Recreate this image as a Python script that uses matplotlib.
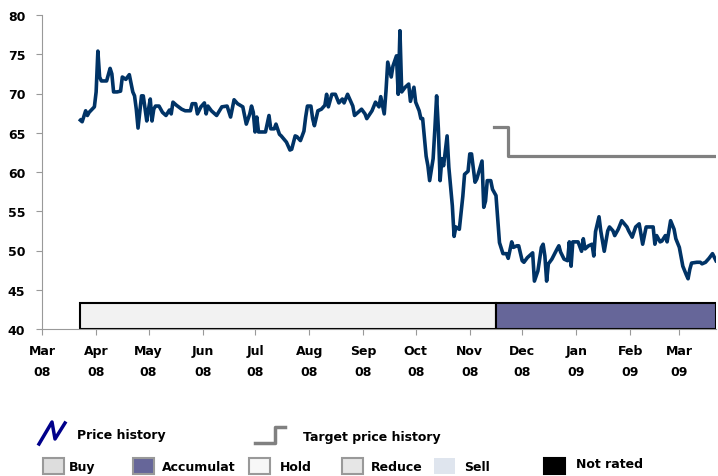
import numpy as np
import matplotlib
matplotlib.use('Agg')
import matplotlib.pyplot as plt
import matplotlib.dates as mdates
from matplotlib.patches import Rectangle
from matplotlib.lines import Line2D

# price history: days counted from 1 Mar 2008
start = np.datetime64('2008-03-01')
price_days = [
    22, 23, 25, 26, 27, 30, 31, 32, 33, 34, 37, 39, 40, 41, 43, 45, 46, 48, 49, 50,
    52, 53, 54, 55, 56, 57, 58, 60, 61, 62, 63, 64, 65, 67, 69, 71, 73, 74, 75, 77,
    80, 82, 85, 86, 88, 89, 91, 93, 94, 95, 97, 100, 103, 106, 108, 110, 112, 115, 116, 117,
    119, 120, 121, 122, 123, 124, 126, 128, 130, 131, 133, 134, 136, 137, 140, 142, 143, 145, 146, 148,
    150, 151, 152, 154, 155, 156, 158, 160, 162, 163, 164, 166, 168, 170, 172, 173, 175, 178, 179, 181,
    183, 185, 186, 189, 191, 193, 194, 196, 197, 198, 200, 201, 203, 204, 205, 206, 208, 210, 211, 213,
    214, 216, 217, 218, 220, 221, 222, 224, 225, 226, 227, 228, 229, 230, 232, 233, 235, 236, 237, 239,
    241, 242, 244, 245, 246, 248, 249, 252, 253, 254, 255, 257, 258, 260, 261, 262, 264, 266, 267, 269,
    270, 272, 273, 275, 276, 278, 281, 282, 284, 286, 287, 288, 289, 290, 292, 295, 296, 297, 299, 301,
    302, 303, 304, 307, 309, 310, 311, 313, 315, 316, 317, 319, 320, 322, 324, 325, 327, 328, 330, 332,
    335, 336, 338, 340, 342, 344, 346, 350, 351, 352, 354, 355, 357, 358, 360, 362, 363, 365, 367, 369,
    370, 371, 372, 375, 377, 378, 380, 382, 384, 386]
price_values = [
    66.6, 66.4, 67.8, 67.2, 67.6, 68.3, 70.2, 75.4, 72.1, 71.6, 71.6, 73.2, 72.5, 70.2, 70.2, 70.3, 72.1, 71.8, 72.1, 72.4,
    70.2, 69.7, 68.0, 65.6, 67.6, 69.7, 69.7, 66.5, 68.0, 69.3, 66.5, 68.0, 68.4, 68.4, 67.6, 67.2, 67.9, 67.4, 68.9, 68.5,
    68.0, 67.8, 67.8, 68.7, 68.7, 67.4, 68.3, 68.8, 67.4, 68.4, 67.8, 67.2, 68.3, 68.4, 67.0, 69.2, 68.7, 68.3, 67.2, 66.1,
    67.4, 68.4, 67.6, 65.1, 67.0, 65.1, 65.1, 65.1, 67.2, 65.5, 65.5, 66.1, 64.8, 64.6, 63.8, 62.8, 62.9, 64.6, 64.5, 64.0,
    65.2, 67.0, 68.4, 68.4, 66.8, 65.9, 67.8, 68.0, 68.5, 69.9, 68.3, 69.9, 69.9, 68.8, 69.3, 68.8, 69.9, 68.4, 67.2, 67.6,
    68.0, 67.4, 66.8, 67.8, 68.9, 68.3, 69.6, 67.4, 70.3, 74.0, 72.1, 73.5, 74.8, 69.9, 78.0, 70.2, 70.8, 71.2, 69.0, 70.8,
    68.9, 67.8, 66.8, 66.8, 62.0, 60.8, 58.9, 61.7, 65.5, 69.7, 65.5, 58.9, 61.7, 60.8, 64.6, 60.6, 55.7, 51.8, 53.0, 52.7,
    56.9, 59.7, 60.1, 62.3, 62.3, 58.7, 59.1, 61.4, 55.5, 56.3, 58.9, 58.9, 57.8, 57.0, 54.0, 51.0, 49.6, 49.6, 49.0, 51.1,
    50.4, 50.6, 50.6, 48.7, 48.5, 49.1, 49.7, 46.1, 47.4, 50.4, 50.8, 49.3, 46.1, 48.3, 48.9, 50.2, 50.6, 49.8, 48.9, 48.7,
    51.1, 48.0, 51.1, 51.1, 49.9, 51.5, 50.2, 50.6, 50.8, 49.3, 52.4, 54.3, 52.5, 49.9, 52.5, 53.0, 52.5, 51.9, 52.7, 53.8,
    53.0, 52.5, 51.7, 53.0, 53.4, 50.8, 53.0, 53.0, 50.8, 51.9, 51.1, 51.2, 51.9, 51.1, 53.8, 52.7, 51.5, 50.4, 48.0, 46.9,
    46.4, 47.6, 48.4, 48.5, 48.5, 48.3, 48.5, 49.0, 49.6, 48.7]

target_dates = ['2008-11-15', '2008-11-23', '2009-03-22']
target_values = [65.7, 62.0, 62.0]

rating_names = ['Hold', 'Accumulate']
rating_start = ['2008-03-23', '2008-11-16']
rating_end = ['2008-11-16', '2009-03-22']
rating_colors = {'Hold': '#f2f2f2', 'Accumulate': '#666699'}

W, H = 718, 477
fig = plt.figure(figsize=(W / 100, H / 100), dpi=100)
ax = fig.add_axes([42 / W, 1 - 330 / H, (716 - 42) / W, (330 - 16) / H])

dates = start + np.array(price_days).astype('timedelta64[D]')
ax.plot(dates, price_values, color='#003366', lw=2.6, solid_joinstyle='round', zorder=3)
ax.plot(np.array(target_dates, dtype='datetime64[D]'), target_values, drawstyle='steps-post',
        color='#808080', lw=2.3, zorder=3)

for name, s, e in zip(rating_names, rating_start, rating_end):
    x0 = mdates.date2num(np.datetime64(s))
    x1 = mdates.date2num(np.datetime64(e))
    ax.add_patch(Rectangle((x0, 40), x1 - x0, 3.3, facecolor=rating_colors[name],
                           edgecolor='black', lw=1.5, zorder=2))

ax.set_xlim(np.datetime64('2008-03-01'), np.datetime64('2009-03-22'))
ax.set_ylim(40, 80)
ax.set_yticks(range(40, 81, 5))
ax.xaxis.set_major_locator(mdates.MonthLocator())
ax.xaxis.set_major_formatter(mdates.DateFormatter('%b\n%y'))

for s in ['top', 'right']:
    ax.spines[s].set_visible(False)
for s in ['left', 'bottom']:
    ax.spines[s].set_color('#999999')
ax.tick_params(axis='both', direction='out', length=4, color='#999999', labelsize=9)
ax.tick_params(axis='y', pad=8)
ax.tick_params(axis='x', pad=7)
for lab in ax.get_xticklabels() + ax.get_yticklabels():
    lab.set_fontweight('bold')
for lab in ax.get_xticklabels():
    lab.set_linespacing(1.75)


def fx(x):
    return x / W


def fy(y):
    return 1 - y / H


# legend, drawn by hand below the chart
fig.add_artist(Line2D([fx(39), fx(52), fx(55), fx(65)], [fy(445), fy(423), fy(440), fy(424)],
                      color='#00008b', lw=2.5, transform=fig.transFigure))
fig.text(fx(77), fy(436), 'Price history', fontsize=9, fontweight='bold', va='center')
fig.add_artist(Line2D([fx(255), fx(275), fx(275), fx(285)], [fy(444), fy(444), fy(428), fy(428)],
                      color='#808080', lw=2.5, transform=fig.transFigure))
fig.text(fx(303), fy(438), 'Target price history', fontsize=9, fontweight='bold', va='center')

legend_boxes = [
    (43, 'Buy', 69, '#dddddd', '#999999'),
    (133, 'Accumulat', 162, '#666699', '#999999'),
    (249, 'Hold', 280, '#f7f7f7', '#999999'),
    (342, 'Reduce', 371, '#e6e6e6', '#999999'),
    (434, 'Sell', 464, '#dfe5ee', 'none'),
    (544, 'Not rated', 576, 'black', 'black'),
]
for bx, label, tx, fc, ec in legend_boxes:
    fig.add_artist(Rectangle((fx(bx), fy(475)), 21 / W, 16 / H, facecolor=fc, edgecolor=ec,
                             lw=1.5, transform=fig.transFigure))
    ty = 465 if label == 'Not rated' else 468
    fig.text(fx(tx), fy(ty), label, fontsize=9, fontweight='bold', va='center')

fig.savefig('out.png', dpi=100)
